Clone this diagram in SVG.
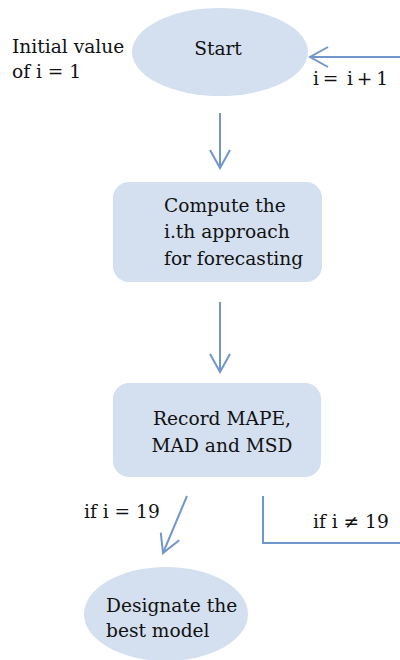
<svg xmlns="http://www.w3.org/2000/svg" width="400" height="660" viewBox="0 0 400 660">
<defs>
<style>
.node{fill:#d4e0ef;stroke:none}
.t{font-family:"DejaVu Serif","Liberation Serif",serif;font-size:18.6px;fill:#111}
.c{fill:none;stroke:#7196cb;stroke-width:2}
</style>
<marker id="ah" viewBox="0 0 24 24" refX="22" refY="12" markerWidth="24" markerHeight="24" markerUnits="userSpaceOnUse" orient="auto">
<path d="M4,2 L22,12 L4,22" fill="none" stroke="#7196cb" stroke-width="2"/>
</marker>
</defs>
<rect width="400" height="660" fill="#fff"/>
<g id="start">
<ellipse class="node" cx="220" cy="52" rx="88" ry="44"/>
<text class="t" x="218" y="55" text-anchor="middle">Start</text>
</g>
<g id="init-label">
<text class="t" x="12" y="53">Initial value</text>
<text class="t" x="12" y="78">of i = 1</text>
</g>
<g id="compute">
<rect class="node" x="113" y="182" width="209" height="100" rx="16"/>
<text class="t" x="164" y="212">Compute the</text>
<text class="t" x="164" y="238">i.th approach</text>
<text class="t" x="164" y="265">for forecasting</text>
</g>
<g id="record">
<rect class="node" x="113" y="383" width="208" height="94" rx="16"/>
<text class="t" x="222" y="425" text-anchor="middle">Record MAPE,</text>
<text class="t" x="222" y="452" text-anchor="middle">MAD and MSD</text>
</g>
<g id="designate">
<ellipse class="node" cx="166" cy="614" rx="82" ry="47"/>
<text class="t" x="106" y="612">Designate the</text>
<text class="t" x="106" y="637">best model</text>
</g>
<g id="connectors">
<line class="c" x1="220" y1="113" x2="220" y2="168" marker-end="url(#ah)"/>
<line class="c" x1="220" y1="302" x2="220" y2="372" marker-end="url(#ah)"/>
<line class="c" x1="187" y1="496" x2="163" y2="553" marker-end="url(#ah)"/>
<polyline class="c" points="263,496 263,543 400,543"/>
<line class="c" x1="400" y1="57" x2="310" y2="57" marker-end="url(#ah)"/>
<text class="t" x="313" y="85" textLength="75" lengthAdjust="spacing">i =&#160; i + 1</text>
<text class="t" x="84" y="518">if i = 19</text>
<text class="t" x="313" y="528">if i ≠ 19</text>
</g>
</svg>
